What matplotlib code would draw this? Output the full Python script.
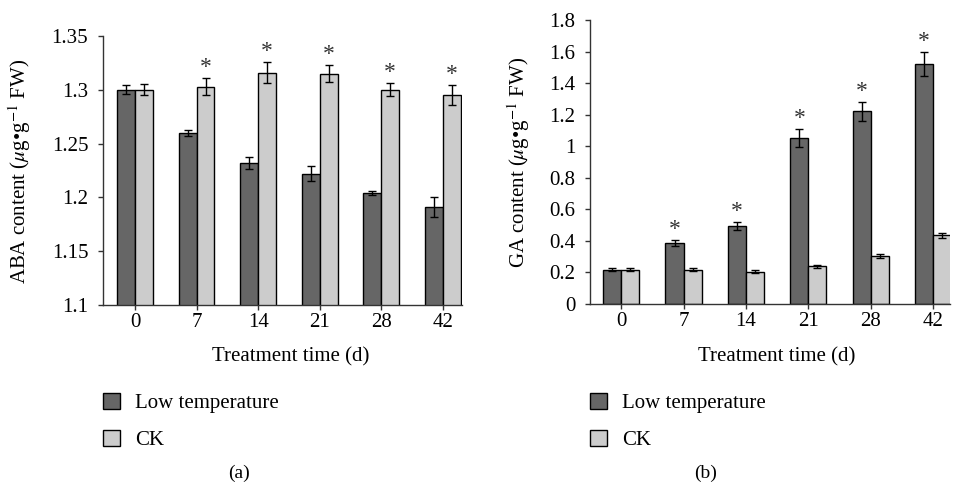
import matplotlib
matplotlib.use("Agg")
import matplotlib.pyplot as plt
import numpy as np
from matplotlib.patches import Patch

plt.rcParams['font.family'] = ['Liberation Serif', 'DejaVu Serif']
plt.rcParams['mathtext.fontset'] = 'stix'

days = ["0", "7", "14", "21", "28", "42"]
series_names = ["Low temperature", "CK"]

aba_low = [1.300, 1.260, 1.232, 1.222, 1.204, 1.191]
aba_low_err = [0.004, 0.003, 0.006, 0.007, 0.002, 0.009]
aba_ck = [1.300, 1.303, 1.316, 1.315, 1.300, 1.295]
aba_ck_err = [0.005, 0.008, 0.010, 0.008, 0.006, 0.009]
aba_low_sig = [False] * 6
aba_ck_sig = [False, True, True, True, True, True]

ga_low = [0.218, 0.385, 0.492, 1.052, 1.222, 1.520]
ga_low_err = [0.010, 0.020, 0.025, 0.055, 0.060, 0.075]
ga_ck = [0.218, 0.218, 0.205, 0.238, 0.305, 0.435]
ga_ck_err = [0.010, 0.010, 0.008, 0.010, 0.013, 0.018]
ga_low_sig = [False, True, True, True, True, True]
ga_ck_sig = [False] * 6

DARK = "#666666"
LIGHT = "#cccccc"
FS = 15

fig = plt.figure(figsize=(9.55, 4.83), dpi=100)

def panel(rect, low, low_err, ck, ck_err, low_sig, ck_sig, ylim, yticks, yticklabels,
          ylabel, xlim, xlab_x, letter, letter_x, leg_x, ylab_x, ylab_y):
    ax = fig.add_axes(rect)
    x = np.arange(len(days))
    w = 0.29
    ax.bar(x - w / 2, low, w, color=DARK, edgecolor="black", linewidth=1.0, zorder=2)
    ax.bar(x + w / 2, ck, w, color=LIGHT, edgecolor="black", linewidth=1.0, zorder=2)
    ax.errorbar(x - w / 2, low, yerr=low_err, fmt="none", ecolor="black", elinewidth=1.0,
                capsize=3, capthick=1.0, zorder=3)
    ax.errorbar(x + w / 2, ck, yerr=ck_err, fmt="none", ecolor="black", elinewidth=1.0,
                capsize=3, capthick=1.0, zorder=3)
    for xs, vals, errs, sigs in ((x - w / 2, low, low_err, low_sig), (x + w / 2, ck, ck_err, ck_sig)):
        for xi, v, e, s in zip(xs, vals, errs, sigs):
            if s:
                ax.annotate("*", (xi, v + e), xytext=(0, 0), textcoords="offset points",
                            ha="center", va="bottom", fontsize=FS + 2, color="#333333")
    ax.set_xlim(*xlim)
    ax.set_ylim(*ylim)
    ax.set_yticks(yticks)
    ax.set_yticklabels(yticklabels)
    ax.set_xticks(x)
    ax.set_xticklabels(days)
    for sp in ["top", "right"]:
        ax.spines[sp].set_visible(False)
    for sp in ["left", "bottom"]:
        ax.spines[sp].set_color("#333333")
        ax.spines[sp].set_linewidth(1.0)
    ax.tick_params(axis="both", direction="out", length=3.6, width=1.0, color="#333333",
                   labelsize=FS)
    ax.tick_params(axis="y", pad=7)
    ax.tick_params(axis="x", pad=2)
    ax.set_ylabel(ylabel, fontsize=FS)
    ax.yaxis.set_label_coords(ylab_x, ylab_y, transform=fig.transFigure)
    fig.text(xlab_x, 1 - 357 / 483, "Treatment time (d)", ha="center", va="center", fontsize=FS)
    fig.text(letter_x, 1 - 473 / 483, letter, ha="center", va="center", fontsize=FS - 1)
    handles = [Patch(facecolor=DARK, edgecolor="black", linewidth=1.0),
               Patch(facecolor=LIGHT, edgecolor="black", linewidth=1.0)]
    fig.legend(handles, series_names, loc="upper left",
               bbox_to_anchor=(leg_x, 1 - 393 / 483), frameon=False, fontsize=FS,
               handlelength=0.8, handleheight=0.8, handletextpad=0.75,
               labelspacing=0.8, borderpad=0, borderaxespad=0)
    return ax

panel([103 / 955, 1 - 305 / 483, 359 / 955, 269 / 483], aba_low, aba_low_err, aba_ck, aba_ck_err,
      aba_low_sig, aba_ck_sig, (1.1, 1.35), [1.1, 1.15, 1.2, 1.25, 1.3, 1.35],
      ["1.1", "1.15", "1.2", "1.25", "1.3", "1.35"],
      r"ABA content ($\mu$g•g$^{-1}$ FW)", (-0.52, 5.31), 291 / 955, "(a)", 239 / 955,
      103 / 955, 33 / 955, 1 - 171 / 483)
panel([590 / 955, 1 - 304 / 483, 360 / 955, 284 / 483], ga_low, ga_low_err, ga_ck, ga_ck_err,
      ga_low_sig, ga_ck_sig, (0, 1.8), [0, 0.2, 0.4, 0.6, 0.8, 1.0, 1.2, 1.4, 1.6, 1.8],
      ["0", "0.2", "0.4", "0.6", "0.8", "1", "1.2", "1.4", "1.6", "1.8"],
      r"GA content ($\mu$g•g$^{-1}$ FW)", (-0.5, 5.27), 777 / 955, "(b)", 706 / 955,
      590 / 955, 532 / 955, 1 - 162 / 483)

fig.savefig("out.png", dpi=100)
